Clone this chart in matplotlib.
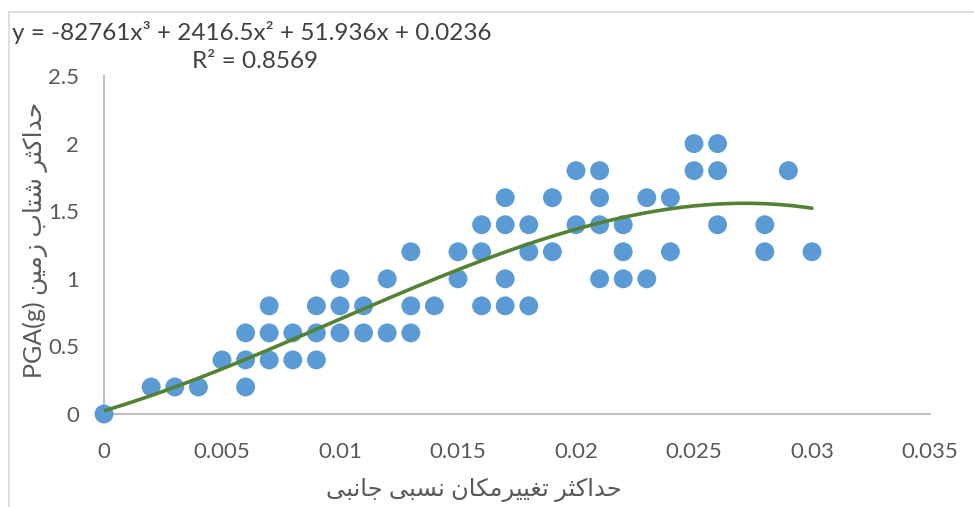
import matplotlib
matplotlib.use("Agg")
import matplotlib.pyplot as plt
import numpy as np
from matplotlib import font_manager
from matplotlib.ft2font import FT2Font
from matplotlib.lines import Line2D

# ---------------- data ----------------
drift = [0.000,
         0.002, 0.003, 0.004, 0.005,
         0.006, 0.006, 0.006,
         0.007, 0.007, 0.007,
         0.008, 0.008,
         0.009, 0.009, 0.009,
         0.010, 0.010, 0.010,
         0.011, 0.011,
         0.012, 0.012,
         0.013, 0.013, 0.013,
         0.014,
         0.015, 0.015,
         0.016, 0.016, 0.016,
         0.017, 0.017, 0.017, 0.017,
         0.018, 0.018, 0.018,
         0.019, 0.019,
         0.020, 0.020,
         0.021, 0.021, 0.021, 0.021,
         0.022, 0.022, 0.022,
         0.023, 0.023,
         0.024, 0.024,
         0.025, 0.025,
         0.026, 0.026, 0.026,
         0.028, 0.028,
         0.029,
         0.030]
pga = [0.0,
       0.2, 0.2, 0.2, 0.4,
       0.2, 0.4, 0.6,
       0.4, 0.6, 0.8,
       0.4, 0.6,
       0.4, 0.6, 0.8,
       0.6, 0.8, 1.0,
       0.6, 0.8,
       0.6, 1.0,
       0.6, 0.8, 1.2,
       0.8,
       1.0, 1.2,
       0.8, 1.2, 1.4,
       0.8, 1.0, 1.4, 1.6,
       0.8, 1.2, 1.4,
       1.2, 1.6,
       1.4, 1.8,
       1.0, 1.4, 1.6, 1.8,
       1.0, 1.2, 1.4,
       1.0, 1.6,
       1.2, 1.6,
       1.8, 2.0,
       1.4, 1.8, 2.0,
       1.2, 1.4,
       1.8,
       1.2]

trend_coef = [-82761, 2416.5, 51.936, 0.0236]   # cubic trendline
trend_range = [0.0, 0.030]
equation_text = "y = -82761x\u00b3 + 2416.5x\u00b2 + 51.936x + 0.0236"
r2_text = "R\u00b2 = 0.8569"

x_ticks = [0, 0.005, 0.01, 0.015, 0.02, 0.025, 0.03, 0.035]
x_tick_labels = ["0", "0.005", "0.01", "0.015", "0.02", "0.025", "0.03", "0.035"]
y_ticks = [0, 0.5, 1, 1.5, 2, 2.5]
y_tick_labels = ["0", "0.5", "1", "1.5", "2", "2.5"]

x_label = "حداکثر تغییرمکان نسبی جانبی"
y_label_ar = "حداکثر شتاب زمین"
y_label_lat = "PGA(g)"

# ---------------- minimal Arabic shaping (matplotlib has no shaper) ----------------
dv_path = font_manager.findfont(font_manager.FontProperties(family="DejaVu Sans"))
cmap_dv = FT2Font(dv_path).get_charmap()

def have(cp):
    return cp in cmap_dv

# forms: (isolated, final, initial, medial); None for right-joining letters' ini/med
FORMS = {
    "\u0627": (0xFE8D, 0xFE8E, None, None),
    "\u0628": (0xFE8F, 0xFE90, 0xFE91, 0xFE92),
    "\u062A": (0xFE95, 0xFE96, 0xFE97, 0xFE98),
    "\u062B": (0xFE99, 0xFE9A, 0xFE9B, 0xFE9C),
    "\u062C": (0xFE9D, 0xFE9E, 0xFE9F, 0xFEA0),
    "\u062D": (0xFEA1, 0xFEA2, 0xFEA3, 0xFEA4),
    "\u062F": (0xFEA9, 0xFEAA, None, None),
    "\u0631": (0xFEAD, 0xFEAE, None, None),
    "\u0632": (0xFEAF, 0xFEB0, None, None),
    "\u0633": (0xFEB1, 0xFEB2, 0xFEB3, 0xFEB4),
    "\u0634": (0xFEB5, 0xFEB6, 0xFEB7, 0xFEB8),
    "\u063A": (0xFECD, 0xFECE, 0xFECF, 0xFED0),
    "\u0645": (0xFEE1, 0xFEE2, 0xFEE3, 0xFEE4),
    "\u0646": (0xFEE5, 0xFEE6, 0xFEE7, 0xFEE8),
}
keheh = (0xFB8E, 0xFB8F, 0xFB90, 0xFB91)
if not all(have(c) for c in keheh):
    keheh = (0xFED9, 0xFEDA, 0xFEDB, 0xFEDC)
FORMS["\u06A9"] = keheh
fyeh = (0xFBFC, 0xFBFD, 0xFBFE, 0xFBFF)
if not all(have(c) for c in fyeh):
    fyeh = (0xFEEF, 0xFEF0, 0xFEF3, 0xFEF4)
FORMS["\u06CC"] = fyeh

def dual(ch):
    return ch in FORMS and FORMS[ch][2] is not None

def shape(text):
    out = []
    n = len(text)
    for i, ch in enumerate(text):
        if ch not in FORMS:
            out.append(ch)
            continue
        prev_j = i > 0 and dual(text[i - 1])
        next_j = dual(ch) and i + 1 < n and text[i + 1] in FORMS
        f = FORMS[ch]
        if prev_j and next_j:
            cp = f[3]
        elif prev_j:
            cp = f[1]
        elif next_j:
            cp = f[2]
        else:
            cp = f[0]
        out.append(chr(cp))
    return "".join(out)[::-1]

# ---------------- figure ----------------
W, H = 974, 507
fig = plt.figure(figsize=(W / 100, H / 100), dpi=100)
fig.patch.set_facecolor("white")

L, R, B, T = 104, 930, 414, 76
ax = fig.add_axes([L / W, 1 - B / H, (R - L) / W, (B - T) / H])

fam = ["Lato", "DejaVu Sans"]
tick_col = "#595959"
axis_col = "#BFBFBF"

ax.set_xlim(0, 0.035)
ax.set_ylim(0, 2.5)
ax.set_xticks(x_ticks)
ax.set_xticklabels(x_tick_labels)
ax.set_yticks(y_ticks)
ax.set_yticklabels(y_tick_labels)
ax.tick_params(axis="both", length=0, labelsize=16, labelcolor=tick_col)
ax.tick_params(axis="x", pad=20)
ax.tick_params(axis="y", pad=18)
for lab in ax.get_xticklabels() + ax.get_yticklabels():
    lab.set_family(fam)

for s in ("top", "right"):
    ax.spines[s].set_visible(False)
for s in ("left", "bottom"):
    ax.spines[s].set_color(axis_col)
    ax.spines[s].set_linewidth(1.5)

ax.scatter(drift, pga, s=185, color="#5B9BD5", edgecolors="none", zorder=3, clip_on=False)

xx = np.linspace(trend_range[0], trend_range[1], 300)
yy = np.polyval(trend_coef, xx)
ax.plot(xx, yy, color="#548235", lw=2.6, zorder=4, solid_capstyle="round")

# equation and R^2
fig.text(12 / W, 1 - 33 / H, equation_text, fontsize=17.5, color="#404040",
         family=fam, ha="left", va="center")
fig.text(255 / W, 1 - 62 / H, r2_text, fontsize=17.5, color="#404040",
         family=fam, ha="center", va="center")

# axis titles
fig.text(474 / W, 1 - 490 / H, shape(x_label), fontsize=17.5, color=tick_col,
         family=fam, ha="center", va="center")
fig.text(35 / W, 1 - 240 / H, y_label_lat + " " + shape(y_label_ar), fontsize=18,
         color=tick_col, family=fam, ha="center", va="center", rotation=90)

# outer chart border (extends beyond the right/bottom of the picture)
bx, by = 8.5 / W, 1 - 11.5 / H
fig.add_artist(Line2D([bx, 1.01], [by, by], transform=fig.transFigure, color="#D9D9D9", lw=1.2))
fig.add_artist(Line2D([bx, bx], [-0.01, by], transform=fig.transFigure, color="#D9D9D9", lw=1.2))

fig.savefig("out.png", dpi=100, facecolor="white")
